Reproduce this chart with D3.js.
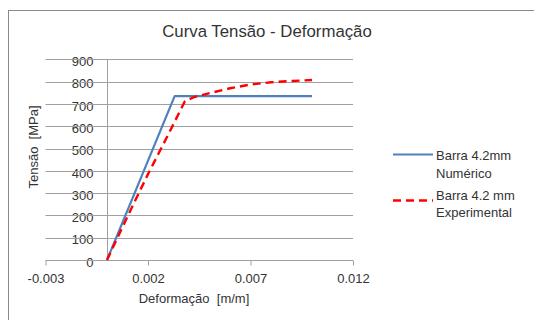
<!DOCTYPE html>
<html>
<head>
<meta charset="utf-8">
<script src="https://cdn.jsdelivr.net/npm/d3@7"></script>
<style>
  html, body { margin: 0; padding: 0; background: #fff; }
  svg { display: block; font-family: "Liberation Sans", Arial, sans-serif; }
  text { white-space: pre; }
</style>
</head>
<body>
<svg id="chart" width="534" height="320"></svg>
<script>
// Strain [m/m] and stress [MPa] for the 4.2 mm bar
const numericStrain = [0, 0.0033, 0.0100];
const numericStress = [0, 735, 735];

const experimentalStrain = [0, 0.0010, 0.0020, 0.0030, 0.0038, 0.0043, 0.0050, 0.0060, 0.0070, 0.0080, 0.0090, 0.0100];
const experimentalStress = [0, 195, 385, 565, 712, 732, 748, 770, 787, 797, 803, 807];

const xTickValues = [-0.003, 0.002, 0.007, 0.012];
const yTickValues = [0, 100, 200, 300, 400, 500, 600, 700, 800, 900];

const seriesNames = [["Barra 4.2mm", "Numérico"], ["Barra 4.2 mm", "Experimental"]];
const titleText = "Curva Tensão - Deformação";
const xTitle = "Deformação  [m/m]";
const yTitle = "Tensão  [MPa]";

const svg = d3.select("#chart");
const textColor = "#333";
const gridColor = "#a0a0a0";

const x = d3.scaleLinear().domain([-0.003, 0.012]).range([45.5, 353]);
const y = d3.scaleLinear().domain([0, 900]).range([260, 59.3]);

const fmt = d3.formatLocale({decimal: ".", thousands: ",", grouping: [3], currency: ["", ""], minus: "-"}).format(".3f");

// chart frame
svg.append("rect")
  .attr("x", 8.5).attr("y", 10.5)
  .attr("width", 540).attr("height", 330)
  .attr("fill", "#fff").attr("stroke", "#8a8a8a");

// title
svg.append("text")
  .attr("x", 267).attr("y", 36.5)
  .attr("text-anchor", "middle")
  .attr("font-size", 16.8).attr("fill", textColor)
  .text(titleText);

// y tick labels, drawn beneath the gridlines
const yAxis = svg.append("g")
  .attr("transform", `translate(${x(0)},0)`)
  .call(d3.axisLeft(y).tickValues(yTickValues).tickSize(0).tickPadding(13.5));
yAxis.select(".domain").remove();
yAxis.selectAll("text")
  .attr("font-size", 13).attr("font-family", null)
  .attr("fill", textColor).attr("dy", "0.48em");

// horizontal gridlines
svg.append("g")
  .selectAll("line")
  .data(yTickValues.filter(v => v > 0))
  .join("line")
  .attr("x1", x.range()[0]).attr("x2", x.range()[1])
  .attr("y1", d => Math.round(y(d)) + 0.5).attr("y2", d => Math.round(y(d)) + 0.5)
  .attr("stroke", gridColor).attr("stroke-width", 1);

// vertical value axis crossing at zero strain
svg.append("line")
  .attr("x1", Math.round(x(0)) + 0.5).attr("x2", Math.round(x(0)) + 0.5)
  .attr("y1", y(900)).attr("y2", y(0))
  .attr("stroke", gridColor);

// horizontal axis
const xAxis = svg.append("g")
  .attr("transform", `translate(0,${Math.round(y(0)) + 0.5})`)
  .call(d3.axisBottom(x).tickValues(xTickValues).tickFormat(fmt).tickSize(5).tickPadding(8));
xAxis.select(".domain").attr("stroke", gridColor).attr("d", `M${x.range()[0]},0H${x.range()[1]}`);
xAxis.selectAll(".tick line").attr("stroke", gridColor);
xAxis.selectAll("text").attr("font-size", 13).attr("font-family", null).attr("fill", textColor);

// axis titles
svg.append("text")
  .attr("x", 194).attr("y", 302.5)
  .attr("text-anchor", "middle")
  .attr("font-size", 13).attr("fill", textColor)
  .text(xTitle);

svg.append("text")
  .attr("transform", "translate(38,147) rotate(-90)")
  .attr("text-anchor", "middle")
  .attr("font-size", 13).attr("fill", textColor)
  .text(yTitle);

// series
const line = d3.line().x(d => x(d[0])).y(d => y(d[1]));
const numeric = d3.zip(numericStrain, numericStress);
const experimental = d3.zip(experimentalStrain, experimentalStress);

svg.append("path")
  .datum(numeric)
  .attr("d", line)
  .attr("fill", "none").attr("stroke", "#4f81bd")
  .attr("stroke-width", 2.2).attr("stroke-linejoin", "round");

svg.append("path")
  .datum(experimental)
  .attr("d", line)
  .attr("fill", "none").attr("stroke", "#ff0000")
  .attr("stroke-width", 2.4).attr("stroke-dasharray", "8,5");

// legend
const legend = svg.append("g");
const legendItems = [
  {names: seriesNames[0], color: "#4f81bd", dash: null, ly: 154.5, ty: 160},
  {names: seriesNames[1], color: "#ff0000", dash: "8,5", ly: 200.5, ty: 199.5}
];
legendItems.forEach(item => {
  legend.append("line")
    .attr("x1", 393).attr("x2", 433)
    .attr("y1", item.ly).attr("y2", item.ly)
    .attr("stroke", item.color)
    .attr("stroke-width", item.dash ? 2.4 : 2.2)
    .attr("stroke-dasharray", item.dash);
  item.names.forEach((t, i) => {
    legend.append("text")
      .attr("x", 436).attr("y", item.ty + i * 17.5)
      .attr("font-size", 13).attr("fill", textColor)
      .text(t);
  });
});
</script>
</body>
</html>
